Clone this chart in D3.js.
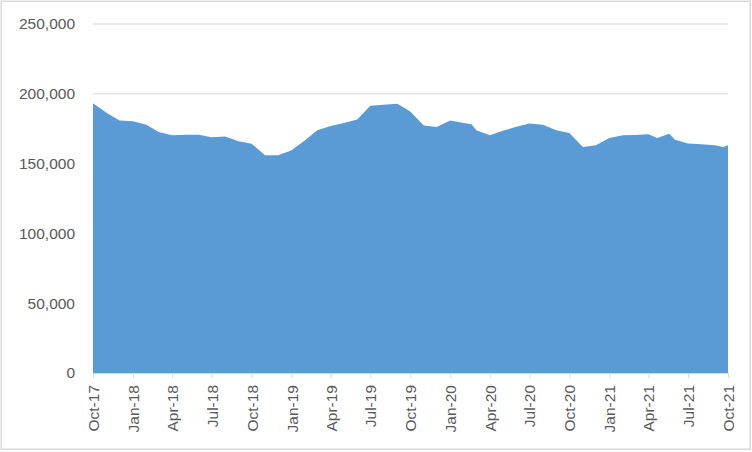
<!DOCTYPE html>
<html>
<head>
<meta charset="utf-8">
<script src="https://cdn.jsdelivr.net/npm/d3@7"></script>
<style>
  html, body { margin: 0; padding: 0; background: #fff; }
  svg { display: block; }
  text { font-family: "Liberation Sans", Arial, sans-serif; fill: #595959; }
</style>
</head>
<body>
<svg id="chart" width="752" height="452"></svg>
<script>
// ---- data ----
const dates = [
  "2017-10-01","2017-11-01","2017-12-01","2018-01-01","2018-02-01","2018-03-01",
  "2018-04-01","2018-05-01","2018-06-01","2018-07-01","2018-08-01","2018-09-01",
  "2018-10-01","2018-11-01","2018-12-01","2019-01-01","2019-02-01","2019-03-01",
  "2019-04-01","2019-05-01","2019-06-01","2019-07-01","2019-08-01","2019-09-01",
  "2019-10-01","2019-11-01","2019-12-01","2020-01-01","2020-02-01","2020-02-19",
  "2020-03-01","2020-04-01","2020-05-01","2020-06-01","2020-07-01","2020-08-01",
  "2020-09-01","2020-10-01","2020-11-01","2020-12-01","2021-01-01","2021-02-01",
  "2021-03-01","2021-04-01","2021-04-21","2021-05-19","2021-06-01","2021-07-01",
  "2021-08-01","2021-09-01","2021-09-20","2021-10-01"
];
const values = [
  193000,186200,180700,180000,177600,172400,
  170000,170500,170500,168600,169100,165700,
  164000,155700,155700,159300,166400,173600,
  176600,178800,181400,191200,191900,192600,
  187100,177100,175900,180700,178900,177900,
  173600,170000,173200,176200,178400,177600,
  173600,171600,161600,162900,168100,170000,
  170200,170700,168100,171200,166900,164100,
  163600,162900,161600,162900
];
const xTickDates = [
  "2017-10-01","2018-01-01","2018-04-01","2018-07-01","2018-10-01","2019-01-01",
  "2019-04-01","2019-07-01","2019-10-01","2020-01-01","2020-04-01","2020-07-01",
  "2020-10-01","2021-01-01","2021-04-01","2021-07-01","2021-10-01"
];
const yTicks = [0, 50000, 100000, 150000, 200000, 250000];

// ---- drawing ----
const parse = d3.timeParse("%Y-%m-%d");
const data = dates.map((d, i) => ({ date: parse(d), value: values[i] }));

const svg = d3.select("#chart");
const plotL = 93, plotR = 728, plotT = 23.5, plotB = 373;

// chart border
svg.append("rect")
  .attr("x", 1.25).attr("y", 1.25)
  .attr("width", 749).attr("height", 448)
  .attr("fill", "#fff")
  .attr("stroke", "#D9D9D9").attr("stroke-width", 1.5);

const x = d3.scaleTime()
  .domain([parse("2017-10-01"), parse("2021-10-01")])
  .range([plotL, plotR]);
const y = d3.scaleLinear()
  .domain([0, 250000])
  .range([plotB, plotT]);

// gridlines + y labels
const yAxis = d3.axisLeft(y)
  .tickValues(yTicks)
  .tickSize(-(plotR - plotL))
  .tickPadding(18)
  .tickFormat(d3.format(","));
const gy = svg.append("g")
  .attr("transform", `translate(${plotL},0)`)
  .call(yAxis);
gy.select(".domain").remove();
gy.selectAll(".tick line").attr("stroke", "#D9D9D9").attr("stroke-width", 1);
gy.selectAll(".tick text")
  .attr("font-size", 15.5)
  .attr("fill", "#595959")
  .style("font-family", '"Liberation Sans", Arial, sans-serif');

// area
const area = d3.area()
  .x(d => x(d.date))
  .y0(y(0))
  .y1(d => y(d.value));
svg.append("path")
  .datum(data)
  .attr("fill", "#5B9BD5")
  .attr("d", area);

// x axis
const xAxis = d3.axisBottom(x)
  .tickValues(xTickDates.map(parse))
  .tickSize(5)
  .tickSizeOuter(0)
  .tickPadding(6)
  .tickFormat(d3.timeFormat("%b-%y"));
const gx = svg.append("g")
  .attr("transform", `translate(0,${plotB})`)
  .call(xAxis);
gx.select(".domain").attr("stroke", "#D9D9D9").attr("stroke-width", 1);
gx.selectAll(".tick line").attr("stroke", "#D9D9D9").attr("stroke-width", 1);
gx.selectAll(".tick text")
  .attr("font-size", 15.5)
  .attr("fill", "#595959")
  .style("font-family", '"Liberation Sans", Arial, sans-serif')
  .attr("transform", "rotate(-90)")
  .attr("text-anchor", "end")
  .attr("x", -12)
  .attr("y", 0)
  .attr("dy", "0.35em");
</script>
</body>
</html>
